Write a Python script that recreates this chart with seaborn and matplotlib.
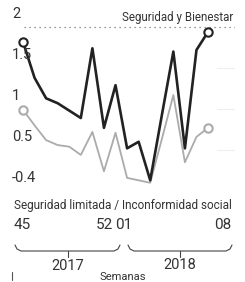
import numpy as np
import pandas as pd
import matplotlib
matplotlib.use("Agg")
import matplotlib.pyplot as plt
import seaborn as sns

# --- values ---
semana_idx = list(range(17))
bienestar = [1.82, 1.38, 1.13, 1.07, 0.98, 0.89, 1.74, 0.77, 1.29, 0.52,
             0.60, 0.13, 0.92, 1.70, 0.52, 1.72, 1.94]
limitada = [0.99, 0.80, 0.62, 0.56, 0.54, 0.44, 0.72, 0.24, 0.71, 0.16,
            0.13, 0.10, 0.63, 1.17, 0.35, 0.66, 0.77]
ytick_vals = [0, 0.5, 1, 1.5, 2]
ytick_labels = ['-0.4', '0.5', '1', '1.5', '2']
week_labels = ['45', '52', '01', '08']
years = ['2017', '2018']

sns.set_style('white')
plt.rcParams['font.family'] = ['Roboto', 'DejaVu Sans']

W, H = 245, 282
fig = plt.figure(figsize=(W / 100, H / 100), dpi=100)
fig.patch.set_facecolor('white')
# axes: x 12..235 px, y 10..195 px (from top)
ax = fig.add_axes([12 / W, (H - 195) / H, 223 / W, 185 / H])
ax.set_xlim(-0.95, 18.33)
ax.set_ylim(-0.049, 2.207)

# grid lines
for v in ytick_vals:
    if v == 2:
        ax.plot([0.1, 18.3], [v, v], ls=(0, (1, 3)), color='#777777', lw=0.9)
    elif v > 0:
        ax.plot([16.8, 18.3], [v, v], color='#eeeeee', lw=0.8)
for v, lab in zip(ytick_vals, ytick_labels):
    ax.text(-0.95, v + 0.07, lab, ha='left', va='bottom', fontsize=10.5, color='#333333')

df = pd.DataFrame({'x': semana_idx, 'bien': bienestar, 'lim': limitada})
sns.lineplot(data=df, x='x', y='lim', color='#ababab', lw=1.3, ax=ax)
sns.lineplot(data=df, x='x', y='bien', color='#222222', lw=1.9, ax=ax)
for col, c in [('lim', '#ababab'), ('bien', '#222222')]:
    ends = df.iloc[[0, -1]]
    ax.plot(ends['x'], ends[col], 'o', ms=6, mfc='white', mec=c, mew=1.5)
ax.axis('off')

def px(x, y):
    return x / W, (H - y) / H

fig.text(*px(233, 18), 'Seguridad y Bienestar', ha='right', va='center',
         fontsize=8.3, color='#333333')
fig.text(*px(123, 205), 'Seguridad limitada / Inconformidad social', ha='center',
         va='center', fontsize=8.5, color='#333333')

# week labels
fig.text(*px(14, 225), week_labels[0], ha='left', va='center', fontsize=11, color='#333333')
fig.text(*px(113, 225), week_labels[1], ha='right', va='center', fontsize=11, color='#333333')
fig.text(*px(115, 225), week_labels[2], ha='left', va='center', fontsize=11, color='#333333')
fig.text(*px(231, 225), week_labels[3], ha='right', va='center', fontsize=11, color='#333333')

# braces
def brace(x0, x1, xm):
    y0, y1 = 245, 251
    xs = [x0, x0 + 2, x0 + 6, x1 - 6, x1 - 2, x1]
    ys = [y0, y1 - 2, y1, y1, y1 - 2, y0]
    fx = [x / W for x in xs]
    fy = [(H - y) / H for y in ys]
    fig.add_artist(plt.Line2D(fx, fy, color='#444444', lw=0.8))
    fig.add_artist(plt.Line2D([xm / W, xm / W], [(H - y1) / H, (H - 257) / H],
                              color='#444444', lw=0.8))

brace(15, 120, 68)
brace(128, 232, 180)
fig.text(*px(68, 266), years[0], ha='center', va='center', fontsize=10.5, color='#333333')
fig.text(*px(180, 265), years[1], ha='center', va='center', fontsize=10.5, color='#333333')
fig.text(*px(123, 277), 'Semanas', ha='center', va='center', fontsize=8, color='#333333')
fig.add_artist(plt.Line2D([12 / W, 12 / W], [(H - 272) / H, (H - 280) / H],
                          color='#555555', lw=0.8))

fig.savefig('out.png', dpi=100, facecolor='white')
